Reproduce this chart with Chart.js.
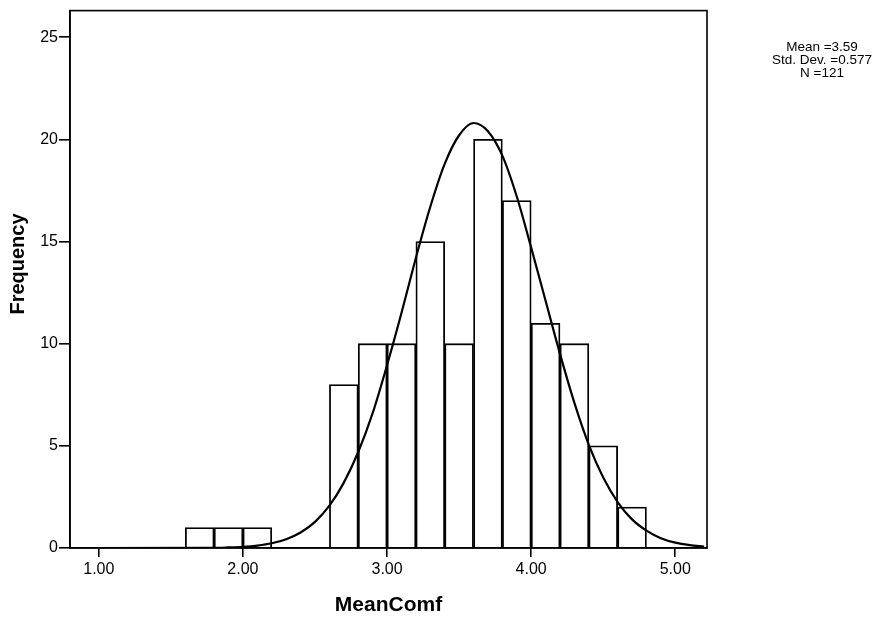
<!DOCTYPE html>
<html>
<head>
<meta charset="utf-8">
<script src="https://cdn.jsdelivr.net/npm/chart.js@4"></script>
<style>
    body { margin: 0; background: #fff; }
    #wrap { width: 889px; height: 620px; }
</style>
</head>
<body>
<div id="wrap"><canvas id="histChart" width="889" height="620"></canvas></div>
<script>
// bin centres (bin width 0.2) and counts
var binCenters = [1.7, 1.9, 2.1, 2.3, 2.5, 2.7, 2.9, 3.1, 3.3, 3.5, 3.7, 3.9, 4.1, 4.3, 4.5, 4.7];
var frequencies = [1, 1, 1, 0, 0, 8, 10, 10, 15, 10, 20, 17, 11, 10, 5, 2];

// normal curve
var curveX = [0.8, 1.8, 1.9, 2.0, 2.1, 2.2, 2.3, 2.4, 2.5, 2.6, 2.7, 2.8, 2.9, 3.0, 3.1, 3.2, 3.3, 3.4, 3.5,
              3.6, 3.7, 3.8, 3.9, 4.0, 4.1, 4.2, 4.3, 4.4, 4.5, 4.6, 4.7, 4.8, 4.9, 5.0, 5.1, 5.2];
var curveY = [0, 0.01, 0.03, 0.06, 0.12, 0.23, 0.43, 0.76, 1.28, 2.07, 3.2, 4.7, 6.6, 8.95, 11.5, 14.2, 16.7, 18.8, 20.2,
              20.8, 20.4, 19.2, 17.2, 14.7, 12.1, 9.5, 7.1, 5.05, 3.45, 2.25, 1.4, 0.85, 0.48, 0.26, 0.14, 0.07];

var xTicks = [1, 2, 3, 4, 5];
var yTicks = [0, 5, 10, 15, 20, 25];

var statLines = ['Mean =3.59', 'Std. Dev. =0.577', 'N =121'];

var barPoints = binCenters.map(function(c, i) { return { x: c, y: frequencies[i] }; });
var curvePoints = curveX.map(function(x, i) { return { x: x, y: curveY[i] }; });

var fontFamily = '"Liberation Sans", Arial, sans-serif';

// frame round the plot, y title and the stats box at the right
var framePlugin = {
    id: 'frame',
    afterDraw: function(chart) {
        var ctx = chart.ctx;
        var a = chart.chartArea;
        ctx.save();
        ctx.strokeStyle = '#000';
        ctx.lineWidth = 1.6;
        ctx.strokeRect(a.left, a.top, a.right - a.left, a.bottom - a.top);

        ctx.fillStyle = '#000';
        ctx.textAlign = 'center';
        ctx.textBaseline = 'middle';

        // y axis title, a bit above the middle like SPSS puts it
        ctx.save();
        ctx.translate(18, 264);
        ctx.rotate(-Math.PI / 2);
        ctx.font = 'bold 20px ' + fontFamily;
        ctx.fillText('Frequency', 0, 0);
        ctx.restore();

        ctx.font = '13.5px ' + fontFamily;
        statLines.forEach(function(t, i) {
            ctx.fillText(t, 822, 47 + i * 13);
        });
        ctx.restore();
    }
};

var ctx = document.getElementById('histChart').getContext('2d');
new Chart(ctx, {
    type: 'bar',
    data: {
        datasets: [{
            type: 'line',
            data: curvePoints,
            borderColor: '#000',
            borderWidth: 2.2,
            pointRadius: 0,
            fill: false,
            cubicInterpolationMode: 'monotone',
            order: 0
        }, {
            type: 'bar',
            data: barPoints,
            backgroundColor: '#fff',
            borderColor: '#000',
            borderWidth: 1.8,
            barPercentage: 1,
            categoryPercentage: 1,
            order: 1
        }]
    },
    options: {
        responsive: false,
        animation: false,
        layout: {
            padding: { left: 0, right: 182, top: 10, bottom: 0 }
        },
        plugins: {
            legend: { display: false },
            tooltip: { enabled: false }
        },
        scales: {
            x: {
                type: 'linear',
                min: 0.8,
                max: 5.22,
                offset: false,
                afterBuildTicks: function(scale) {
                    scale.ticks = xTicks.map(function(v) { return { value: v }; });
                },
                afterFit: function(scale) { scale.height = 72; },
                ticks: {
                    color: '#000',
                    font: { family: fontFamily, size: 16 },
                    padding: 3,
                    maxRotation: 0,
                    callback: function(v) { return v.toFixed(2); }
                },
                grid: {
                    offset: false,
                    drawOnChartArea: false,
                    drawTicks: true,
                    tickLength: 9,
                    color: '#000',
                    lineWidth: 1.6
                },
                border: { color: '#000', width: 1.6 },
                title: {
                    display: true,
                    text: 'MeanComf',
                    color: '#000',
                    font: { family: fontFamily, size: 21, weight: 'bold' },
                    padding: { top: 0, bottom: 2 }
                }
            },
            y: {
                min: 0,
                max: 26.3,
                afterBuildTicks: function(scale) {
                    scale.ticks = yTicks.map(function(v) { return { value: v }; });
                },
                afterFit: function(scale) { scale.width = 70; },
                ticks: {
                    color: '#000',
                    font: { family: fontFamily, size: 16 },
                    padding: 1
                },
                grid: {
                    drawOnChartArea: false,
                    drawTicks: true,
                    tickLength: 11,
                    color: '#000',
                    lineWidth: 1.6
                },
                border: { color: '#000', width: 1.6 }
            }
        }
    },
    plugins: [framePlugin]
});
</script>
</body>
</html>
